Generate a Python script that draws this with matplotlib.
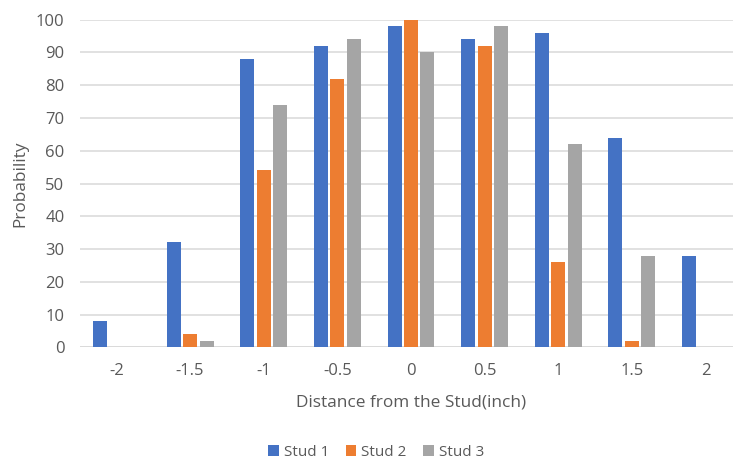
import numpy as np
import matplotlib.pyplot as plt

plt.rcParams["font.family"] = ["Open Sans", "DejaVu Sans"]

# distance from stud (inch) and detection probability per stud
distance = ["-2", "-1.5", "-1", "-0.5", "0", "0.5", "1", "1.5", "2"]
stud1 = [8, 32, 88, 92, 98, 94, 96, 64, 28]
stud2 = [0, 4, 54, 82, 100, 92, 26, 2, 0]
stud3 = [0, 2, 74, 94, 90, 98, 62, 28, 0]

series = [("Stud 1", stud1, "#4472C4"),
          ("Stud 2", stud2, "#ED7D31"),
          ("Stud 3", stud3, "#A5A5A5")]

text_color = "#595959"
grid_color = "#D9D9D9"

fig = plt.figure(figsize=(7.33, 4.59), dpi=100)
ax = fig.add_axes([0.1087, 0.2434, 0.904, 0.7136])

x = np.arange(len(distance))
width = 0.19
step = 0.223
for i, (name, vals, color) in enumerate(series):
    ax.bar(x + (i - 1) * step, vals, width, color=color, label=name,
           linewidth=0, zorder=3)

ax.set_xlim(-0.5, len(distance) - 0.5)
ax.set_ylim(0, 100)
ax.set_yticks(range(0, 101, 10))
ax.set_xticks(x)
ax.set_xticklabels(distance)

ax.grid(axis="y", color=grid_color, linewidth=1.1, zorder=0)
for s in ax.spines.values():
    s.set_visible(False)
ax.axhline(0, color=grid_color, linewidth=1.1, zorder=1)

ax.tick_params(axis="both", length=0, labelsize=12, colors=text_color)
ax.tick_params(axis="y", pad=11)
ax.tick_params(axis="x", pad=11)

ax.set_xlabel("Distance from the Stud(inch)", fontsize=12.4, color=text_color)
ax.set_ylabel("Probability", fontsize=12.4, color=text_color)
ax.xaxis.set_label_coords(0.5, -0.143)
ax.yaxis.set_label_coords(-0.078, 0.5)

fig.legend(loc="center", bbox_to_anchor=(0.513, 0.015), ncol=3, frameon=False,
           fontsize=11, labelcolor=text_color, handlelength=0.7,
           handleheight=0.7, handletextpad=0.3, columnspacing=1.1)

fig.savefig("out.png", dpi=100)
